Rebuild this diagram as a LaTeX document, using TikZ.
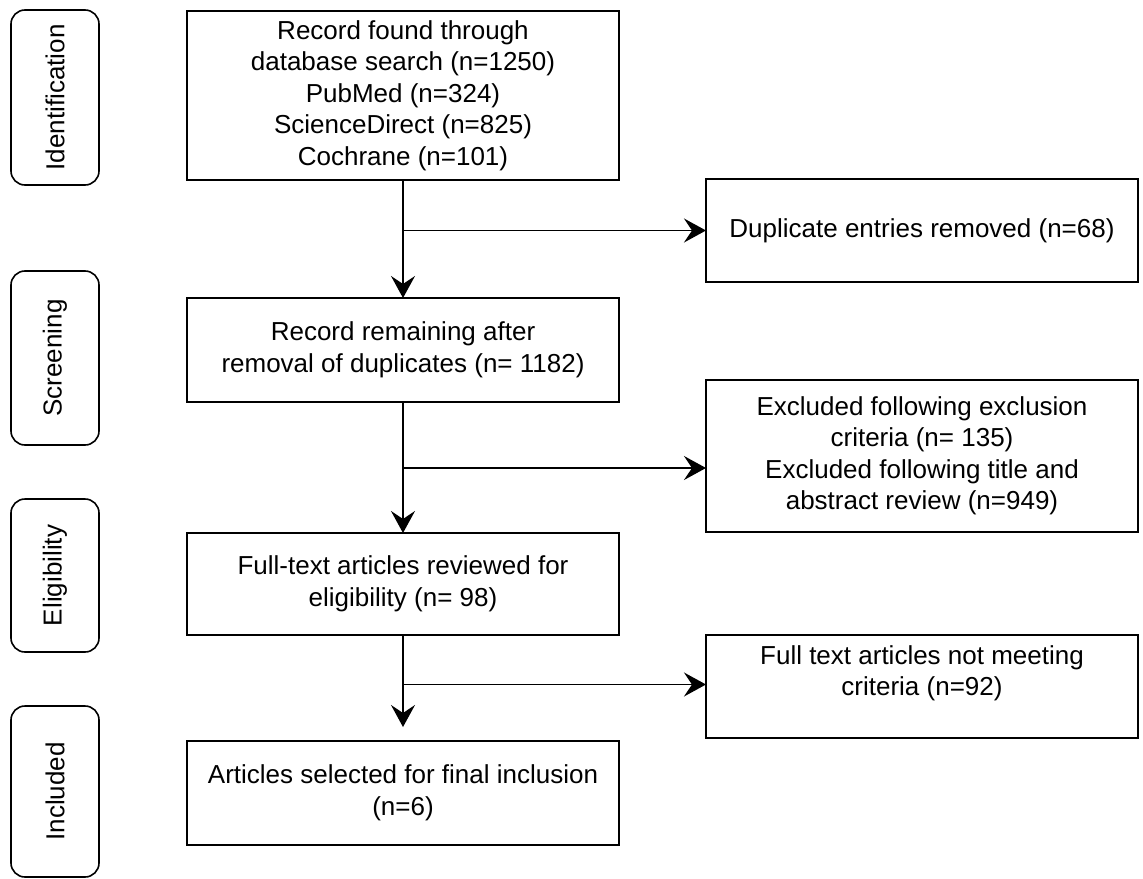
\documentclass[tikz,border=0pt]{standalone}
\usepackage{fontspec}
\setmainfont{Liberation Sans}
\usetikzlibrary{arrows.meta,calc}
\begin{document}
\begin{tikzpicture}[x=1pt,y=-1pt,
  txt/.style={font=\fontsize{26}{31.5}\selectfont, align=center},
  stagebox/.style={draw, line width=1.6pt, rounded corners=14pt, minimum width=88pt, inner sep=0pt, outer sep=0pt, font=\fontsize{26}{31.5}\selectfont},
  mainbox/.style={draw, line width=1.6pt, minimum width=432pt, inner sep=0pt, outer sep=0pt, txt},
  conn/.style={line width=1.5pt},
  arr/.style={line width=1.5pt, -{Stealth[length=22pt, width=24pt, inset=8pt]}}
]
\useasboundingbox (0,0) rectangle (1143,878);
% stage labels
\node[stagebox, minimum height=175pt] (sid) at (55,97.5) {\rotatebox{90}{Identification}};
\node[stagebox, minimum height=174pt] (sscr) at (55,358) {\rotatebox{90}{Screening}};
\node[stagebox, minimum height=153pt] (seli) at (55,575.5) {\rotatebox{90}{Eligibility}};
\node[stagebox, minimum height=171pt] (sinc) at (55,791.5) {\rotatebox{90}{Included}};
% main column
\node[mainbox, minimum height=169pt] (rec) at (403,95.5) {Record found through\\database search (n=1250)\\PubMed (n=324)\\ScienceDirect (n=825)\\Cochrane (n=101)};
\node[mainbox, minimum height=104pt] (rem) at (403,350) {Record remaining after\\removal of duplicates (n= 1182)};
\node[mainbox, minimum height=102pt] (full) at (403,584) {Full-text articles reviewed for\\eligibility (n= 98)};
\node[mainbox, minimum height=104pt] (art) at (403,793) {Articles selected for final inclusion\\(n=6)};
% right column
\node[mainbox, minimum height=103pt] (dup) at (922,230.5) {Duplicate entries removed (n=68)};
\node[mainbox, minimum height=152pt] (exc) at (922,456) {Excluded following exclusion\\criteria (n= 135)\\Excluded following title and\\abstract review (n=949)};
\node[mainbox, minimum height=103pt] (ftx) at (922,686.5) {Full text articles not meeting\\criteria (n=92)\\\mbox{}};
% connectors
\draw[arr] (rec.south) -- (rem.north);
\coordinate (b1) at (rec.south |- dup.west);
\draw[arr] (b1) -- (dup.west);
\draw[arr] (rem.south) -- (full.north);
\coordinate (e2) at ($(exc.west)+(0,12)$);
\coordinate (b2) at (rem.south |- e2);
\draw[arr] (b2) -- (e2);
\draw[arr, shorten >=14pt] (full.south) -- (art.north);
\coordinate (e3) at ($(ftx.west)+(0,-2)$);
\coordinate (b3) at (full.south |- e3);
\draw[arr] (b3) -- (e3);
\end{tikzpicture}
\end{document}
